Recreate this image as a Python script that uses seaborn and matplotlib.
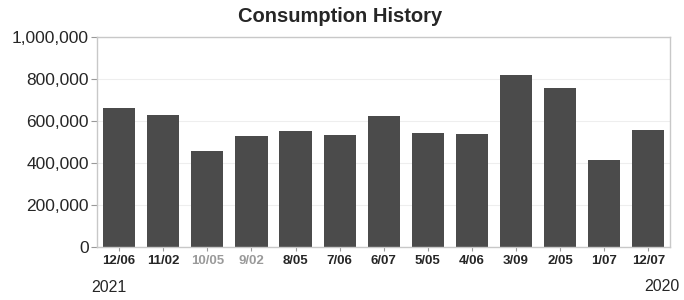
import matplotlib
matplotlib.use("Agg")
import matplotlib.pyplot as plt
import pandas as pd
import seaborn as sns
from matplotlib.ticker import FuncFormatter

# Data
periods = ['12/06', '11/02', '10/05', '9/02', '8/05', '7/06', '6/07',
           '5/05', '4/06', '3/09', '2/05', '1/07', '12/07']
usage = [660000, 628000, 457000, 529000, 553000, 532000, 625000,
         542000, 537000, 817000, 756000, 414000, 556000]
faded = ['10/05', '9/02']

df = pd.DataFrame({'period': periods, 'usage': usage})

sns.set_style('white')
plt.rcParams['font.family'] = ['Liberation Sans', 'DejaVu Sans']

fig, ax = plt.subplots(figsize=(6.84, 3.0), dpi=100)
fig.subplots_adjust(left=0.142, right=0.98, top=0.877, bottom=0.177)

sns.barplot(data=df, x='period', y='usage', color='#4b4b4b', saturation=1,
            width=0.73, linewidth=0, ax=ax)

ax.set_ylim(0, 1000000)
ax.set_yticks(range(0, 1000001, 200000))
ax.yaxis.set_major_formatter(FuncFormatter(lambda v, p: f'{int(v):,}'))
ax.set_xlabel('')
ax.set_ylabel('')
ax.grid(axis='y', color='#eeeeee', linewidth=0.8)
ax.set_axisbelow(True)
for s in ax.spines.values():
    s.set_color('#c8c8c8')
    s.set_linewidth(1)

ax.tick_params(axis='y', labelsize=12.5, length=4, color='#999999', left=True, pad=2)
ax.tick_params(axis='x', labelsize=9.5, length=3, color='#999999', bottom=True, pad=3)
for lbl in ax.get_xticklabels():
    lbl.set_fontweight('bold')
    if lbl.get_text() in faded:
        lbl.set_color('#9a9a9a')

fig.suptitle('Consumption History', x=0.497, y=0.975, fontsize=14.5, fontweight='bold')
fig.text(0.134, 0.025, '2021', fontsize=11.5)
fig.text(0.994, 0.03, '2020', fontsize=11.5, ha='right')

fig.savefig('out.png', dpi=100)
